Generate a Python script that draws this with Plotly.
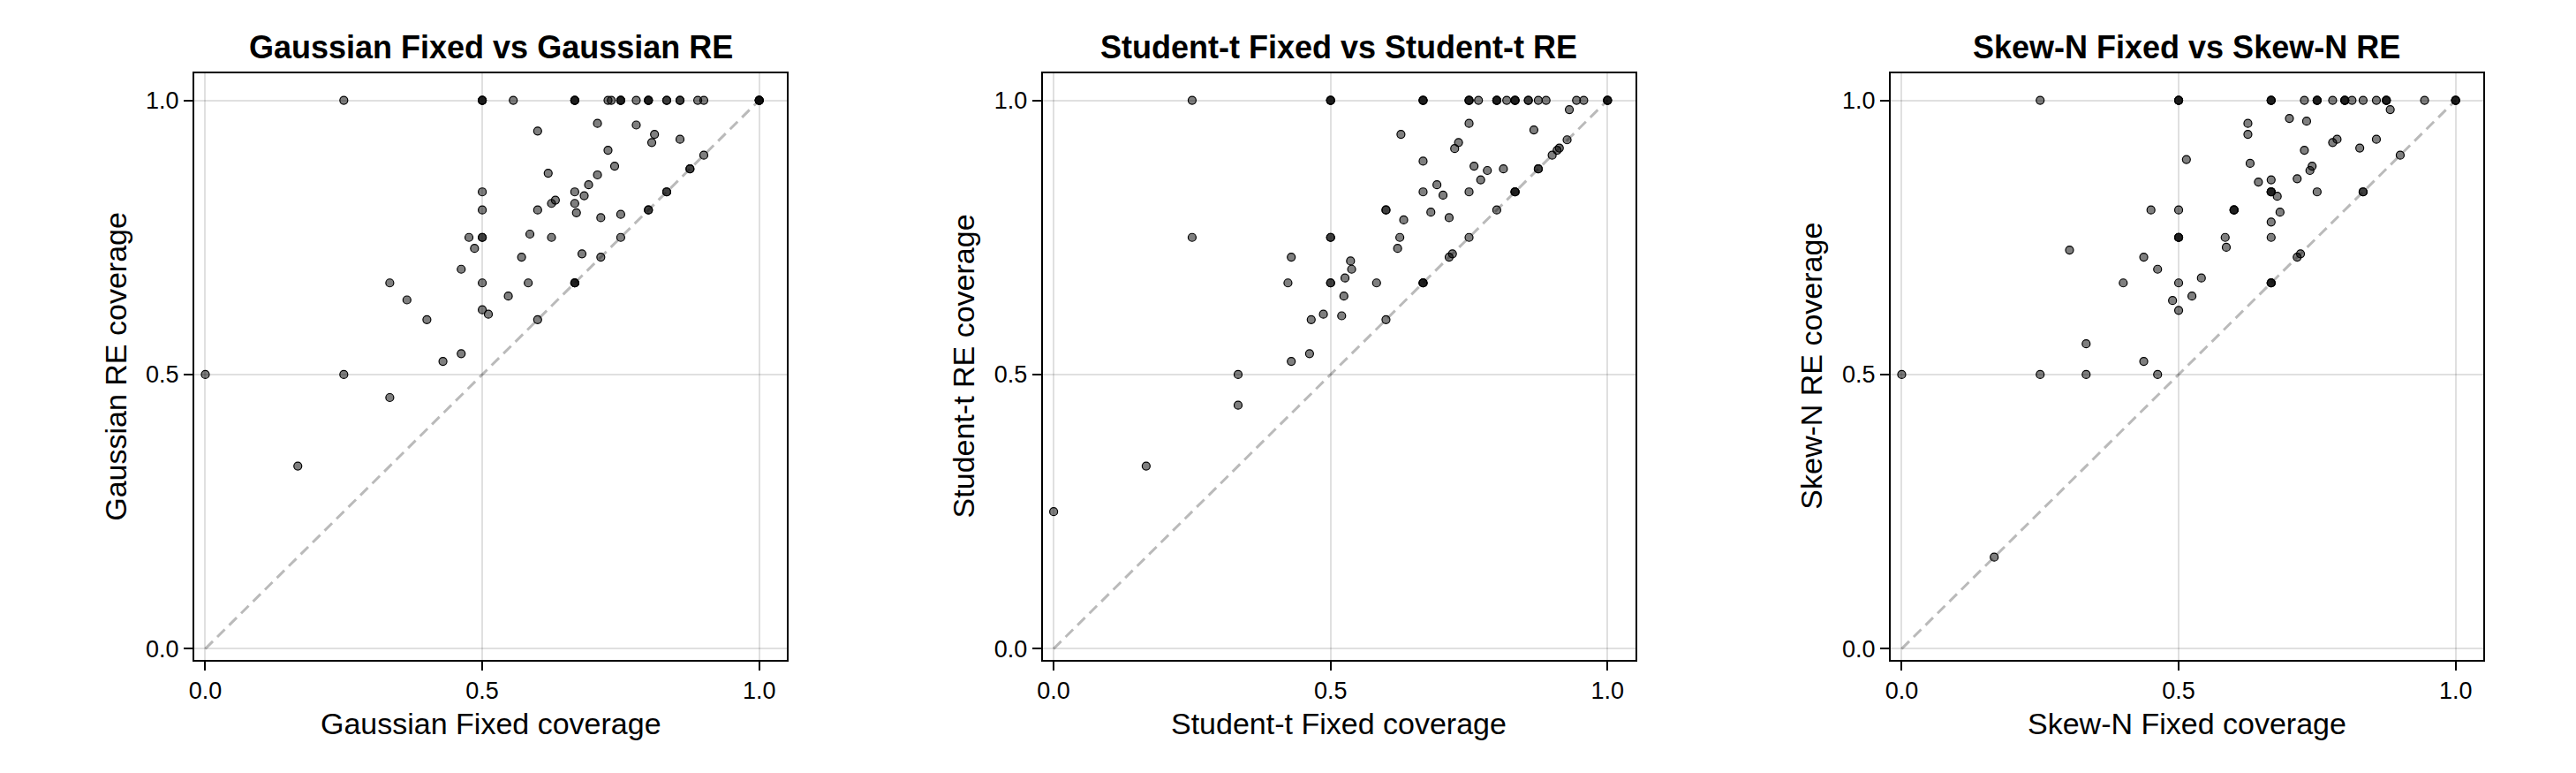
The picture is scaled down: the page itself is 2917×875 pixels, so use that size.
import plotly.graph_objects as go

# ---------------- data ----------------
gauss_fixed = [
    0.25, 0.5, 0.5, 0.5, 0.556, 0.667, 0.667, 0.667, 0.727, 0.733, 0.75, 0.75, 0.75, 0.778,
    0.8, 0.8, 0.8, 0.833, 0.833, 0.857, 0.857, 0.889, 0.9, 1.0, 1.0, 1.0, 1.0,
    0.6, 0.708, 0.778, 0.811, 0.806, 0.857, 0.727, 0.739, 0.619, 0.708, 0.692, 0.667, 0.684,
    0.9, 0.875, 0.875, 0.833, 0.833, 0.8, 0.8, 0.5, 0.5, 0.6, 0.625, 0.632, 0.667, 0.67,
    0.714, 0.75, 0.476, 0.5, 0.5, 0.486, 0.586, 0.625, 0.75, 0.571, 0.68, 0.714, 0.462,
    0.333, 0.5, 0.583, 0.667, 0.667, 0.667, 0.364, 0.547, 0.5, 0.511, 0.4, 0.6, 0.462,
    0.429, 0.0, 0.25, 0.333, 0.167,
]
gauss_re = [
    1.0, 1.0, 1.0, 1.0, 1.0, 1.0, 1.0, 1.0, 1.0, 1.0, 1.0, 1.0, 1.0, 1.0,
    1.0, 1.0, 1.0, 1.0, 1.0, 1.0, 1.0, 1.0, 1.0, 1.0, 1.0, 1.0, 1.0,
    0.944, 0.958, 0.955, 0.938, 0.923, 0.929, 0.909, 0.88, 0.867, 0.864, 0.846, 0.833, 0.826,
    0.9, 0.875, 0.875, 0.833, 0.833, 0.8, 0.8, 0.833, 0.8, 0.8, 0.812, 0.818, 0.812, 0.795,
    0.786, 0.792, 0.75, 0.75, 0.75, 0.73, 0.756, 0.75, 0.75, 0.714, 0.72, 0.714, 0.692,
    0.667, 0.667, 0.667, 0.667, 0.667, 0.667, 0.636, 0.643, 0.618, 0.61, 0.6, 0.6, 0.538,
    0.524, 0.5, 0.5, 0.458, 0.333,
]

student_fixed = [
    0.25, 0.5, 0.5, 0.5, 0.667, 0.667, 0.667, 0.75, 0.75, 0.75, 0.767, 0.8, 0.8, 0.8, 0.818,
    0.833, 0.833, 0.833, 0.857, 0.857, 0.875, 0.889, 0.944, 0.957, 1.0, 1.0, 1.0,
    0.931, 0.75, 0.867, 0.627, 0.731, 0.724, 0.927, 0.913, 0.909, 0.9, 0.667, 0.759, 0.783,
    0.812, 0.875, 0.875, 0.771, 0.692, 0.667, 0.703, 0.75, 0.833, 0.833, 0.833, 0.6, 0.6,
    0.681, 0.714, 0.632, 0.8, 0.25, 0.5, 0.5, 0.625, 0.75, 0.621, 0.714, 0.72, 0.429, 0.536,
    0.538, 0.526, 0.423, 0.5, 0.5, 0.583, 0.667, 0.667, 0.667, 0.524, 0.487, 0.52, 0.465,
    0.6, 0.462, 0.429, 0.333, 0.333, 0.167, 0.0,
]
student_re = [
    1.0, 1.0, 1.0, 1.0, 1.0, 1.0, 1.0, 1.0, 1.0, 1.0, 1.0, 1.0, 1.0, 1.0, 1.0,
    1.0, 1.0, 1.0, 1.0, 1.0, 1.0, 1.0, 1.0, 1.0, 1.0, 1.0, 1.0,
    0.983, 0.958, 0.946, 0.938, 0.923, 0.912, 0.928, 0.913, 0.909, 0.9, 0.889, 0.88, 0.872,
    0.875, 0.875, 0.875, 0.855, 0.846, 0.833, 0.827, 0.833, 0.833, 0.833, 0.833, 0.8, 0.8,
    0.796, 0.786, 0.782, 0.8, 0.75, 0.75, 0.75, 0.75, 0.75, 0.73, 0.714, 0.72, 0.714, 0.707,
    0.692, 0.676, 0.667, 0.667, 0.667, 0.667, 0.667, 0.667, 0.667, 0.643, 0.61, 0.607, 0.6,
    0.6, 0.538, 0.524, 0.5, 0.444, 0.333, 0.25,
]

skew_fixed = [
    0.25, 0.5, 0.5, 0.5, 0.667, 0.667, 0.667, 0.727, 0.75, 0.75, 0.75, 0.778, 0.8, 0.8, 0.8,
    0.813, 0.833, 0.857, 0.875, 0.875, 0.875, 0.944, 1.0, 1.0, 1.0,
    0.882, 0.7, 0.731, 0.625, 0.625, 0.778, 0.786, 0.857, 0.827, 0.727, 0.9, 0.514, 0.629,
    0.741, 0.737, 0.714, 0.667, 0.644, 0.667, 0.667, 0.667, 0.678, 0.75, 0.833, 0.833,
    0.45, 0.5, 0.6, 0.6, 0.6, 0.683, 0.667, 0.5, 0.5, 0.5, 0.584, 0.667, 0.586, 0.303,
    0.437, 0.714, 0.72, 0.462, 0.541, 0.4, 0.5, 0.667, 0.667, 0.667, 0.524, 0.489, 0.5,
    0.333, 0.437, 0.0, 0.25, 0.333, 0.462, 0.167,
]
skew_re = [
    1.0, 1.0, 1.0, 1.0, 1.0, 1.0, 1.0, 1.0, 1.0, 1.0, 1.0, 1.0, 1.0, 1.0, 1.0,
    1.0, 1.0, 1.0, 1.0, 1.0, 1.0, 1.0, 1.0, 1.0, 1.0,
    0.983, 0.967, 0.962, 0.958, 0.938, 0.923, 0.929, 0.929, 0.913, 0.909, 0.9, 0.892, 0.885,
    0.88, 0.872, 0.857, 0.855, 0.851, 0.833, 0.833, 0.833, 0.825, 0.833, 0.833, 0.833,
    0.8, 0.8, 0.8, 0.8, 0.8, 0.796, 0.778, 0.75, 0.75, 0.75, 0.75, 0.75, 0.732, 0.727,
    0.714, 0.714, 0.72, 0.692, 0.676, 0.667, 0.667, 0.667, 0.667, 0.667, 0.643, 0.635, 0.617,
    0.556, 0.524, 0.5, 0.5, 0.5, 0.5, 0.167,
]

panel_titles = ["Gaussian Fixed vs Gaussian RE", "Student-t Fixed vs Student-t RE", "Skew-N Fixed vs Skew-N RE"]
x_labels = ["Gaussian Fixed coverage", "Student-t Fixed coverage", "Skew-N Fixed coverage"]
y_labels = ["Gaussian RE coverage", "Student-t RE coverage", "Skew-N RE coverage"]
tick_vals = [0.0, 0.5, 1.0]
tick_text = ["0.0", "0.5", "1.0"]
diag = [0.0, 1.0]

panels = [(gauss_fixed, gauss_re), (student_fixed, student_re), (skew_fixed, skew_re)]

# ---------------- layout geometry ----------------
W, H = 2917, 875
lefts = [214.4, 1177.0, 2139.3]
pw = 672.5
top_px, bot_px = 82.8, 749.3
FONT = "Liberation Sans, Arial, sans-serif"

fig = go.Figure()
layout = dict(
    width=W, height=H, margin=dict(l=0, r=0, t=0, b=0),
    paper_bgcolor="white", plot_bgcolor="white", showlegend=False,
    font=dict(family=FONT, color="black"),
)
annotations = []
for i, ((fx, fy), title, xl, yl) in enumerate(zip(panels, panel_titles, x_labels, y_labels)):
    sfx = "" if i == 0 else str(i + 1)
    xa, ya = "x" + sfx, "y" + sfx
    fig.add_trace(go.Scatter(x=diag, y=diag, mode="lines", xaxis=xa, yaxis=ya,
                             line=dict(color="rgba(0,0,0,0.27)", width=3, dash="12px,7px"),
                             hoverinfo="skip"))
    fig.add_trace(go.Scatter(x=fx, y=fy, mode="markers", xaxis=xa, yaxis=ya,
                             marker=dict(size=9, color="rgba(0,0,0,0.5)",
                                         line=dict(color="black", width=1.2))))
    axcommon = dict(range=[-0.02, 1.05], tickvals=tick_vals, ticktext=tick_text,
                    showgrid=True, gridcolor="rgba(0,0,0,0.12)", gridwidth=2,
                    zeroline=False, showline=True, mirror=True, linecolor="black", linewidth=2,
                    ticks="outside", ticklen=10, tickwidth=2, tickcolor="black",
                    tickfont=dict(size=27, family=FONT, color="black"), fixedrange=True)
    x0 = lefts[i] / W
    x1 = (lefts[i] + pw) / W
    layout["xaxis" + sfx] = dict(domain=[x0, x1], anchor=ya, **axcommon)
    layout["yaxis" + sfx] = dict(domain=[1 - bot_px / H, 1 - top_px / H], anchor=xa, **axcommon)
    cx = (x0 + x1) / 2
    annotations.append(dict(text="<b>" + title + "</b>", x=cx, y=1 - 54 / H, xref="paper", yref="paper",
                            xanchor="center", yanchor="middle", showarrow=False,
                            font=dict(size=36, family=FONT, color="black")))
    annotations.append(dict(text=xl, x=cx, y=1 - 822 / H, xref="paper", yref="paper",
                            xanchor="center", yanchor="middle", showarrow=False,
                            font=dict(size=34, family=FONT, color="black")))
    annotations.append(dict(text=yl, x=(lefts[i] - 90) / W, y=1 - ((top_px + bot_px) / 2) / H,
                            xref="paper", yref="paper", textangle=-90,
                            xanchor="center", yanchor="middle", showarrow=False,
                            font=dict(size=34, family=FONT, color="black")))
layout["annotations"] = annotations
fig.update_layout(**layout)
fig.write_html("out.html")
